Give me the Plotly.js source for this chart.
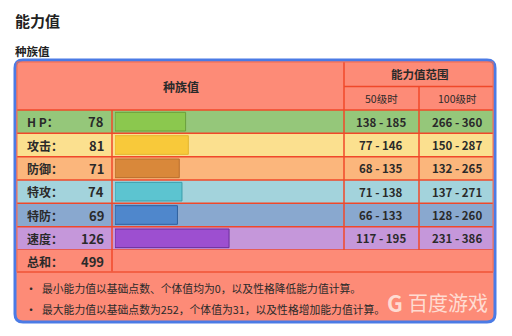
<!DOCTYPE html>
<html><head><meta charset="utf-8">
<script src="https://cdn.plot.ly/plotly-3.0.1.min.js"></script>
<style>html,body{margin:0;padding:0;background:#fff}#c{width:512px;height:336px}</style>
</head><body><div id="c"></div>
<script>
// ---- data ----
const stats = ['HP', '攻击', '防御', '特攻', '特防', '速度'];
const statLabels = ['H P：', '攻击：', '防御：', '特攻：', '特防：', '速度：'];
const baseValues = [78, 81, 71, 74, 69, 126];
const lv50Min = [138, 77, 68, 71, 66, 117];
const lv50Max = [185, 146, 135, 138, 133, 195];
const lv100Min = [266, 150, 132, 137, 128, 231];
const lv100Max = [360, 287, 265, 271, 260, 386];
const totalLabel = '总和：';
const notes = ['最小能力值以基础点数、个体值均为0，以及性格降低能力值计算。',
               '最大能力值以基础点数为252，个体值为31，以及性格增加能力值计算。'];

// ---- styles ----
const rowBg = ['#95c77a', '#fbe08f', '#fbb67c', '#a3d3dc', '#89a8cf', '#c597da'];
const barFill = ['#8bc84e', '#f8c93a', '#d9883a', '#5cc4d0', '#4f87cc', '#9d4fd0'];
const barLine = ['#6b9f3c', '#e3b52e', '#b86e2c', '#3c9eab', '#2f609e', '#6a2f9a'];
const salmon = '#fd8b77', red = '#f0482a', blue = '#4b7be5', ink = '#2a2a2a';
const FONT = '"Noto Sans CJK SC", "Noto Sans", sans-serif';

const W = 512, H = 336;
const px = x => x / W, py = y => 1 - y / H;
const total = baseValues.reduce((a, b) => a + b, 0);

const shapes = [];
// outer rounded box
(function () {
  const x0 = px(15), x1 = px(495), y0 = py(322), y1 = py(60), rx = 8 / W, ry = 8 / H;
  shapes.push({type: 'path', xref: 'paper', yref: 'paper', layer: 'below',
    path: `M${x0 + rx},${y1} L${x1 - rx},${y1} Q${x1},${y1} ${x1},${y1 - ry} L${x1},${y0 + ry} Q${x1},${y0} ${x1 - rx},${y0} L${x0 + rx},${y0} Q${x0},${y0} ${x0},${y0 + ry} L${x0},${y1 - ry} Q${x0},${y1} ${x0 + rx},${y1} Z`,
    fillcolor: salmon, line: {color: blue, width: 3}});
})();
// row backgrounds
stats.forEach((s, i) => shapes.push({type: 'rect', xref: 'paper', yref: 'y', layer: 'below',
  x0: px(17), x1: px(493), y0: i - 0.5, y1: i + 0.5, fillcolor: rowBg[i], line: {width: 0}}));
const hl = (x0, x1, y) => shapes.push({type: 'line', xref: 'paper', yref: 'paper', x0: px(x0), x1: px(x1), y0: py(y), y1: py(y), line: {color: red, width: 1.5}});
const vl = (x, y0, y1) => shapes.push({type: 'line', xref: 'paper', yref: 'paper', x0: px(x), x1: px(x), y0: py(y0), y1: py(y1), line: {color: red, width: 1.5}});
for (let i = 0; i < stats.length; i++) {
  shapes.push({type: 'line', xref: 'paper', yref: 'y', x0: px(17), x1: px(493), y0: i + 0.5, y1: i + 0.5, line: {color: red, width: 1.5}});
}
hl(17, 493, 110); hl(344, 493, 86.5); hl(17, 493, 272);
vl(112, 110, 272); vl(344, 62, 250); vl(419, 86.5, 250);
shapes.push({type: 'rect', xref: 'paper', yref: 'paper', x0: px(17), x1: px(493), y0: py(272), y1: py(62), line: {color: '#f26a50', width: 1}});

const ann = [];
const A = (o) => ann.push(Object.assign({showarrow: false, xanchor: 'center', yanchor: 'middle', font: {family: FONT, size: 12, color: ink}}, o));
A({text: '<b>能力值</b>', xref: 'paper', yref: 'paper', x: px(13), y: py(20), xanchor: 'left', font: {family: FONT, size: 15, color: '#222'}});
A({text: '<b>种族值</b>', xref: 'paper', yref: 'paper', x: px(13), y: py(51), xanchor: 'left', font: {family: FONT, size: 11.5, color: '#222'}});
A({text: '<b>种族值</b>', xref: 'paper', yref: 'paper', x: px(181), y: py(87)});
A({text: '<b>能力值范围</b>', xref: 'paper', yref: 'paper', x: px(420), y: py(74), font: {family: FONT, size: 11.5, color: ink}});
A({text: '50级时', xref: 'paper', yref: 'paper', x: px(381), y: py(98), font: {family: FONT, size: 10.5, color: ink}});
A({text: '100级时', xref: 'paper', yref: 'paper', x: px(457), y: py(98), font: {family: FONT, size: 10.5, color: ink}});
stats.forEach((s, i) => {
  A({text: '<b>' + statLabels[i] + '</b>', xref: 'paper', yref: 'y', x: px(25), y: s, xanchor: 'left'});
  A({text: '<b>' + baseValues[i] + '</b>', xref: 'paper', yref: 'y', x: px(106), y: s, xanchor: 'right', font: {family: FONT, size: 13, color: ink}});
  A({text: '<b>' + lv50Min[i] + ' - ' + lv50Max[i] + '</b>', xref: 'paper', yref: 'y', x: px(381), y: s, font: {family: FONT, size: 11.5, color: ink}});
  A({text: '<b>' + lv100Min[i] + ' - ' + lv100Max[i] + '</b>', xref: 'paper', yref: 'y', x: px(457), y: s, font: {family: FONT, size: 11.5, color: ink}});
});
A({text: '<b>' + totalLabel + '</b>', xref: 'paper', yref: 'paper', x: px(25), y: py(261), xanchor: 'left'});
A({text: '<b>' + total + '</b>', xref: 'paper', yref: 'paper', x: px(106), y: py(261), xanchor: 'right', font: {family: FONT, size: 13, color: ink}});
notes.forEach((t, i) => {
  const yy = py(288 + i * 21);
  A({text: '•', xref: 'paper', yref: 'paper', x: px(31), y: yy, font: {family: FONT, size: 12, color: ink}});
  A({text: t, xref: 'paper', yref: 'paper', x: px(40), y: yy, xanchor: 'left', font: {family: FONT, size: 10.8, color: ink}});
});
A({text: '<b>G</b>', xref: 'paper', yref: 'paper', x: px(395), y: py(302), font: {family: FONT, size: 22, color: 'rgba(255,235,228,0.85)'}});
A({text: '百度游戏', xref: 'paper', yref: 'paper', x: px(448), y: py(302), font: {family: FONT, size: 20, color: 'rgba(255,235,228,0.85)'}});

const trace = {type: 'bar', orientation: 'h', x: baseValues, y: stats, width: 0.8,
  marker: {color: barFill, line: {color: barLine, width: 1}}, hoverinfo: 'none', cliponaxis: false};

const layout = {width: W, height: H, margin: {l: 0, r: 0, t: 0, b: 0},
  paper_bgcolor: '#fff', plot_bgcolor: 'rgba(0,0,0,0)', showlegend: false,
  xaxis: {domain: [px(115), px(344)], range: [0, 253], visible: false, fixedrange: true},
  yaxis: {domain: [py(250), py(110)], range: [5.5, -0.5], type: 'category', visible: false, fixedrange: true},
  shapes: shapes, annotations: ann};
Plotly.newPlot('c', [trace], layout, {displayModeBar: false, staticPlot: true});
</script></body></html>
